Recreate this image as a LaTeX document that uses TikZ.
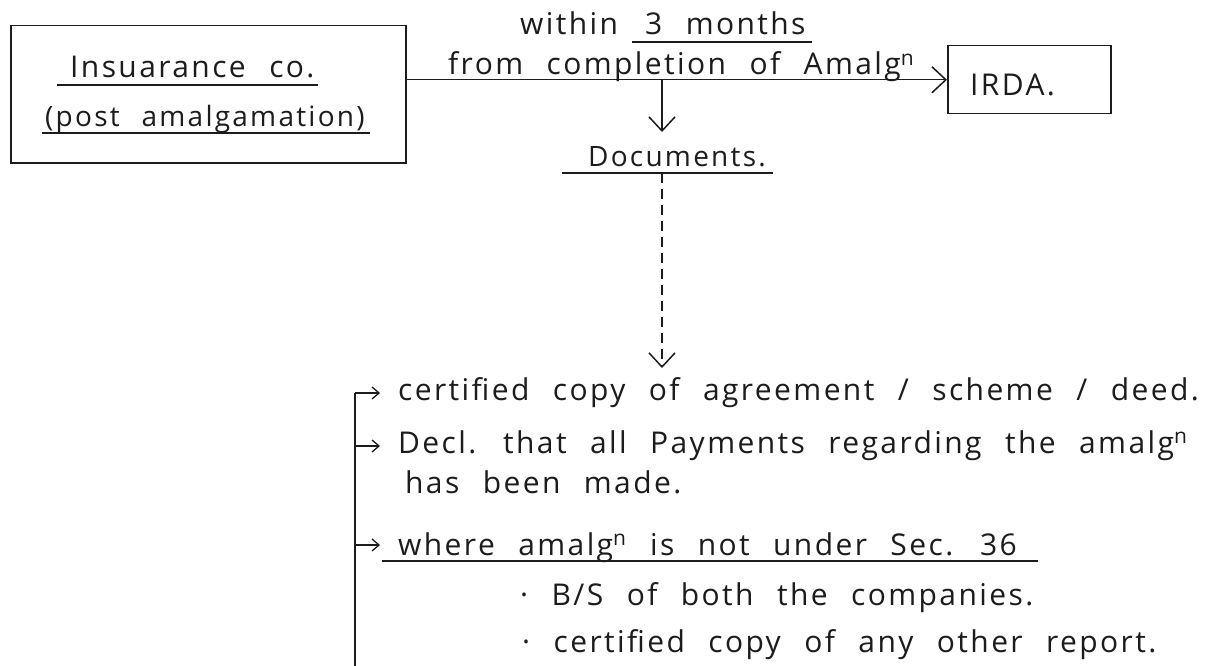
\documentclass[tikz,border=0pt]{standalone}
\usepackage{fontspec}
\setmainfont{Open Sans}[LetterSpace=8, WordSpace=2.3]
\usepackage{xcolor}
\usetikzlibrary{arrows.meta}
\definecolor{InkBlack}{HTML}{1C1C1C}

\begin{document}
\begin{tikzpicture}[
    x=1pt, y=-1pt,
    every node/.style={font=\fontsize{30}{34}\selectfont, inner sep=0pt, anchor=base west, text=InkBlack},
    box/.style={draw=InkBlack, line width=1.5pt, anchor=north west},
    arrow/.style={-{Straight Barb[length=14pt,width=26pt,line width=1.5pt]}, line width=1.5pt, color=InkBlack},
    tick/.style={-{Straight Barb[length=7pt,width=12pt,line width=1.3pt]}, line width=1.3pt, color=InkBlack},
    uline/.style={line width=1.3pt, color=InkBlack}
  ]
    \useasboundingbox (0,0) rectangle (1210,666);

    \node[box, minimum width=395pt, minimum height=137pt] (insbox) at (10,25) {};
    \node (ins1) at (70,78) {Insuarance co.};
    \node[font=\fontsize{28}{32}\selectfont] (ins2) at (45,127) {(post amalgamation)};
    \node[box, minimum width=163pt, minimum height=68pt] (irda) at (947,45) {};
    \node (irdatxt) at (970,96) {IRDA.};

    \node (within) at (520,35) {within};
    \node (months) at (645,35) {3 months};
    \node (from) at (448,75) {from completion of Amalg\textsuperscript{n}};
    \node[font=\fontsize{28}{32}\selectfont] (docs) at (588,167) {Documents.};

    \node (item1) at (398,400) {certified copy of agreement / scheme / deed.};
    \node (item2) at (398,453) {Decl. that all Payments regarding the amalg\textsuperscript{n}};
    \node (item2b) at (405,493) {has been made.};
    \node (item3) at (398,555) {where amalg\textsuperscript{n} is not under Sec. 36};
    \node (sub1) at (520,605) {· B/S of both the companies.};
    \node (sub2) at (522,652) {· certified copy of any other report.};

    \coordinate (split) at (662,79);
    \coordinate (docstop) at (662,132);
    \coordinate (docsbot) at (662,173);
    \coordinate (listtop) at (662,368);
    \coordinate (brtop) at (355,393);
    \coordinate (brbot) at (355,666);

    \draw[uline] (57,85) -- (318,85);
    \draw[uline] (42,133) -- (370,133);
    \draw[uline] (632,42) -- (812,42);
    \draw[uline] (562,173) -- (773,173);
    \draw[uline] (382,561) -- (1038,561);

    \draw[arrow] (insbox.east |- irda.west) -- (irda.west);
    \draw[arrow] (split) -- (docstop);
    \draw[arrow, dash pattern=on 10pt off 6pt] (docsbot) -- (listtop);
    \draw[line width=1.5pt, color=InkBlack] (brtop) -- (brbot);
    \draw[tick] (brtop) -- ++(25,0);
    \draw[tick] (brtop |- 0,446) -- ++(25,0);
    \draw[tick] (brtop |- 0,545) -- ++(25,0);
  \end{tikzpicture}
\end{document}
